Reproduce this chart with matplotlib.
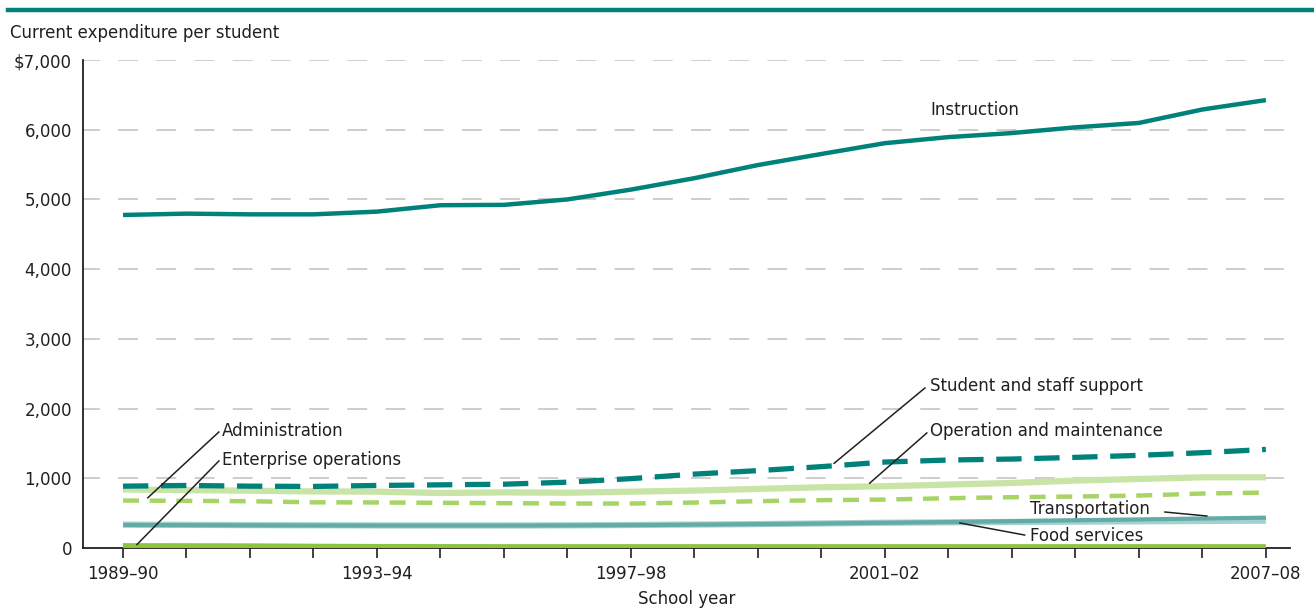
import matplotlib
matplotlib.use('Agg')
import matplotlib.pyplot as plt
from matplotlib.lines import Line2D
import numpy as np

# school years 1989-90 .. 2007-08
years = ["1989–90", "1990–91", "1991–92", "1992–93", "1993–94", "1994–95",
         "1995–96", "1996–97", "1997–98", "1998–99", "1999–2000", "2000–01",
         "2001–02", "2002–03", "2003–04", "2004–05", "2005–06", "2006–07",
         "2007–08"]
shown_years = ["1989–90", "1993–94", "1997–98", "2001–02", "2007–08"]

instruction = [4777, 4796, 4786, 4786, 4825, 4917, 4922, 5000, 5141, 5305,
               5493, 5652, 5807, 5894, 5952, 6034, 6097, 6290, 6425]
student_support = [887, 897, 887, 883, 897, 906, 915, 944, 995, 1060,
                   1110, 1167, 1233, 1262, 1276, 1300, 1329, 1367, 1414]
operation = [840, 831, 822, 812, 808, 789, 798, 793, 808, 824,
             848, 871, 886, 910, 933, 967, 990, 1014, 1014]
administration = [681, 676, 671, 655, 653, 648, 643, 638, 638, 652,
                  672, 686, 695, 714, 729, 738, 752, 781, 795]
transportation = [330, 328, 325, 323, 322, 322, 322, 324, 328, 335,
                  342, 352, 362, 372, 385, 398, 410, 423, 435]
food_services = [335, 332, 328, 326, 324, 323, 323, 325, 330, 336,
                 343, 352, 362, 368, 373, 378, 383, 388, 392]
enterprise = [30, 29, 27, 22, 18, 17, 16, 16, 16, 16,
              16, 16, 16, 16, 16, 16, 16, 16, 16]

TEAL = '#00827a'
TXT = '#231f20'

plt.rcParams['font.family'] = ['DejaVu Sans']

fig = plt.figure(figsize=(13.14, 6.10), dpi=100)
ax = fig.add_axes([83/1314, 1 - 548/610, (1290 - 83)/1314, (548 - 60)/610])

x = np.arange(len(years))

# grid
for v in range(1000, 8000, 1000):
    ax.axhline(v, color='#c0c0c0', lw=1.1, linestyle=(2, (13, 12)), zorder=1)

ax.plot(x, enterprise, color='#8cc43e', lw=4, solid_capstyle='butt', zorder=3)
ax.plot(x, food_services, color='#a3d1ce', lw=4.5, solid_capstyle='butt', zorder=3)
ax.plot(x, transportation, color='#62aba6', lw=3, solid_capstyle='butt', zorder=3)
ax.plot(x, administration, color='#a8d466', lw=3.2, linestyle=(0, (3.6, 2.4)),
        zorder=3)
ax.plot(x, operation, color='#c8e4a7', lw=4.5, solid_capstyle='butt', zorder=3)
ax.plot(x, student_support, color=TEAL, lw=3.8, linestyle=(0, (4.8, 2.4)), zorder=4)
ax.plot(x, instruction, color=TEAL, lw=3.2, solid_capstyle='butt', zorder=4)

ax.set_xlim(-0.63, 18.38)
ax.set_ylim(0, 7000)

ax.set_xticks(x)
ax.set_xticklabels([y if y in shown_years else '' for y in years],
                   fontsize=12, color=TXT)
ax.tick_params(axis='x', direction='out', length=7, width=1.2, color=TXT, pad=5)
ax.set_yticks(range(0, 8000, 1000))
ax.set_yticklabels(['0', '1,000', '2,000', '3,000', '4,000', '5,000', '6,000',
                    '$7,000'], fontsize=12, color=TXT)
ax.tick_params(axis='y', length=0, pad=8)

for s in ['top', 'right']:
    ax.spines[s].set_visible(False)
ax.spines['left'].set_color(TXT)
ax.spines['bottom'].set_color(TXT)
ax.spines['left'].set_linewidth(1.3)
ax.spines['bottom'].set_linewidth(1.3)

ax.set_xlabel('School year', fontsize=12, color=TXT, labelpad=5)

# labels with leader lines
lbl = dict(fontsize=12, color=TXT, va='center', ha='left')
ax.text(12.71, 6283, 'Instruction', **lbl)

def leader(text, txt_xy, start, end):
    ax.text(txt_xy[0], txt_xy[1], text, **lbl)
    ax.add_line(Line2D([start[0], end[0]], [start[1], end[1]],
                       color=TXT, lw=1.1, zorder=5))

leader('Student and staff support', (12.71, 2324), (12.63, 2295), (11.2, 1215))
leader('Operation and maintenance', (12.71, 1678), (12.66, 1650), (11.76, 930))
leader('Administration', (1.56, 1678), (1.51, 1664), (0.39, 720))
leader('Enterprise operations', (1.56, 1262), (1.51, 1248), (0.22, 50))
leader('Transportation', (14.28, 559), (16.41, 516), (17.07, 459))
leader('Food services', (14.28, 172), (14.2, 186), (13.18, 359))

fig.text(10/1314, 1 - 33/610, 'Current expenditure per student', fontsize=12,
         color=TXT, va='center', ha='left')

# teal rule at the top of the figure
fig.add_artist(Line2D([8/1314, 1], [1 - 10/610, 1 - 10/610], color=TEAL, lw=3.2,
                      transform=fig.transFigure))

fig.savefig('out.png', dpi=100)
